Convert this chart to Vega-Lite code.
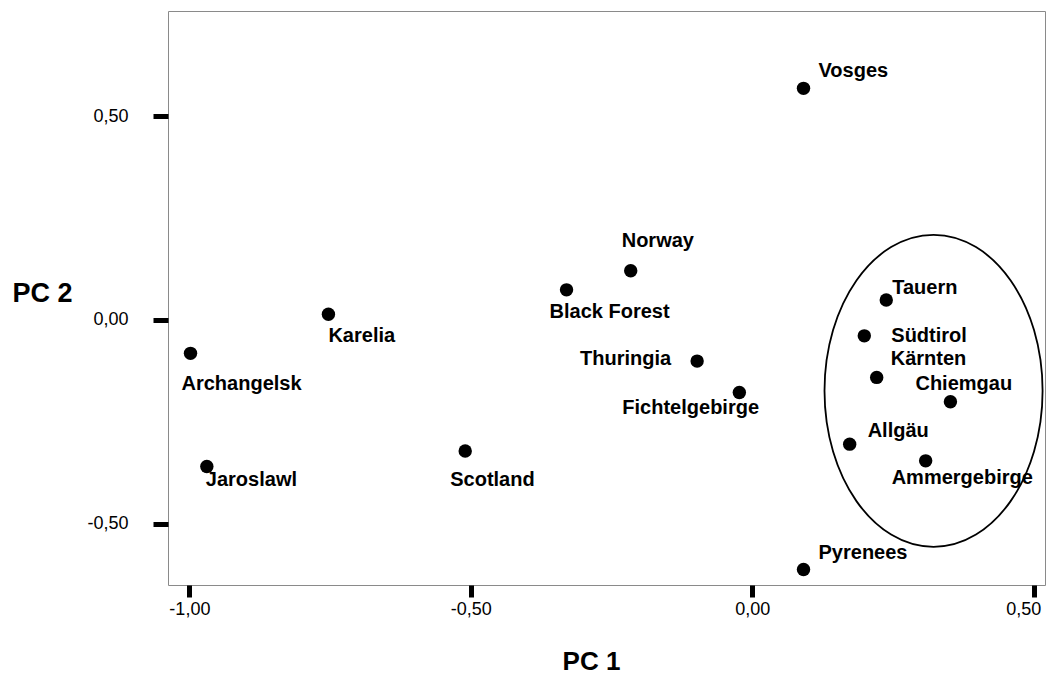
{
  "$schema": "https://vega.github.io/schema/vega-lite/v6.json",
  "width": 877,
  "height": 574,
  "autosize": {"type": "none"},
  "padding": {"left": 168, "top": 11, "right": 5, "bottom": 89},
  "background": "white",
  "config": {
    "font": "Liberation Sans",
    "view": {"stroke": "#8a8a8a", "strokeWidth": 1}
  },
  "datasets": {
    "pts": [
      {"name": "Vosges", "pc1": 0.091, "pc2": 0.569},
      {"name": "Pyrenees", "pc1": 0.091, "pc2": -0.613},
      {"name": "Norway", "pc1": -0.216, "pc2": 0.121},
      {"name": "Black Forest", "pc1": -0.330, "pc2": 0.074},
      {"name": "Karelia", "pc1": -0.753, "pc2": 0.014},
      {"name": "Archangelsk", "pc1": -0.998, "pc2": -0.082},
      {"name": "Jaroslawl", "pc1": -0.969, "pc2": -0.360},
      {"name": "Scotland", "pc1": -0.510, "pc2": -0.322},
      {"name": "Thuringia", "pc1": -0.098, "pc2": -0.101},
      {"name": "Fichtelgebirge", "pc1": -0.023, "pc2": -0.178},
      {"name": "Tauern", "pc1": 0.238, "pc2": 0.049},
      {"name": "Südtirol", "pc1": 0.199, "pc2": -0.039},
      {"name": "Kärnten", "pc1": 0.221, "pc2": -0.141},
      {"name": "Chiemgau", "pc1": 0.352, "pc2": -0.201},
      {"name": "Allgäu", "pc1": 0.173, "pc2": -0.305},
      {"name": "Ammergebirge", "pc1": 0.308, "pc2": -0.346}
    ],
    "ell": [
      {"pc1": 0.322, "pc2": -0.174}
    ]
  },
  "data": {"name": "pts"},
  "encoding": {
    "x": {
      "field": "pc1", "type": "quantitative",
      "scale": {"domain": [-1.038, 0.520], "nice": false, "zero": false},
      "axis": {
        "values": [-1, -0.5, 0, 0.5],
        "labelExpr": "replace(replace(format(datum.value, '.2f'), '.', ','), '\u2212', '-')",
        "grid": false, "domain": false,
        "tickColor": "black", "tickWidth": 5, "tickSize": 12,
        "labelFontSize": 18, "labelColor": "black", "labelPadding": 3,
        "labelFlush": 12, "labelFlushOffset": 7,
        "title": "PC 1", "titleFontSize": 26, "titleFontWeight": "bold", "titleColor": "black",
        "titleX": 423, "titleY": 76, "titleBaseline": "middle", "titleAlign": "center"
      }
    },
    "y": {
      "field": "pc2", "type": "quantitative",
      "scale": {"domain": [-0.651, 0.759], "nice": false, "zero": false},
      "axis": {
        "values": [-0.5, 0, 0.5],
        "labelExpr": "replace(replace(format(datum.value, '.2f'), '.', ','), '\u2212', '-')",
        "grid": false, "domain": false,
        "tickColor": "black", "tickWidth": 5, "tickSize": 15,
        "labelFontSize": 18, "labelColor": "black", "labelPadding": 25,
        "title": "PC 2", "titleFontSize": 27, "titleFontWeight": "bold", "titleColor": "black",
        "titleAngle": 0, "titleX": -156, "titleY": 282, "titleBaseline": "middle", "titleAlign": "left"
      }
    }
  },
  "layer": [
    {
      "data": {"name": "ell"},
      "mark": {
        "type": "point",
        "shape": "M -0.699 0 A 0.699 1 0 1 1 0.699 0 A 0.699 1 0 1 1 -0.699 0 Z",
        "size": 97344,
        "filled": false,
        "stroke": "black",
        "strokeWidth": 1.8,
        "opacity": 1
      }
    },
    {
      "mark": {"type": "circle", "size": 180, "color": "black", "opacity": 1}
    },
    {"transform": [{"filter": "datum.name === 'Vosges'"}], "mark": {"type": "text", "align": "left", "baseline": "middle", "dx": 15, "dy": -17, "fontSize": 20, "fontWeight": "bold", "color": "black"}, "encoding": {"text": {"field": "name"}}},
    {"transform": [{"filter": "datum.name === 'Pyrenees'"}], "mark": {"type": "text", "align": "left", "baseline": "middle", "dx": 15, "dy": -17, "fontSize": 20, "fontWeight": "bold", "color": "black"}, "encoding": {"text": {"field": "name"}}},
    {"transform": [{"filter": "datum.name === 'Norway'"}], "mark": {"type": "text", "align": "left", "baseline": "middle", "dx": -9, "dy": -30, "fontSize": 20, "fontWeight": "bold", "color": "black"}, "encoding": {"text": {"field": "name"}}},
    {"transform": [{"filter": "datum.name === 'Black Forest'"}], "mark": {"type": "text", "align": "left", "baseline": "middle", "dx": -17, "dy": 22, "fontSize": 20, "fontWeight": "bold", "color": "black"}, "encoding": {"text": {"field": "name"}}},
    {"transform": [{"filter": "datum.name === 'Karelia'"}], "mark": {"type": "text", "align": "left", "baseline": "middle", "dx": 0, "dy": 22, "fontSize": 20, "fontWeight": "bold", "color": "black"}, "encoding": {"text": {"field": "name"}}},
    {"transform": [{"filter": "datum.name === 'Archangelsk'"}], "mark": {"type": "text", "align": "left", "baseline": "middle", "dx": -9, "dy": 31, "fontSize": 20, "fontWeight": "bold", "color": "black"}, "encoding": {"text": {"field": "name"}}},
    {"transform": [{"filter": "datum.name === 'Jaroslawl'"}], "mark": {"type": "text", "align": "left", "baseline": "middle", "dx": -1, "dy": 13, "fontSize": 20, "fontWeight": "bold", "color": "black"}, "encoding": {"text": {"field": "name"}}},
    {"transform": [{"filter": "datum.name === 'Scotland'"}], "mark": {"type": "text", "align": "left", "baseline": "middle", "dx": -15, "dy": 29, "fontSize": 20, "fontWeight": "bold", "color": "black"}, "encoding": {"text": {"field": "name"}}},
    {"transform": [{"filter": "datum.name === 'Thuringia'"}], "mark": {"type": "text", "align": "right", "baseline": "middle", "dx": -26, "dy": -2, "fontSize": 20, "fontWeight": "bold", "color": "black"}, "encoding": {"text": {"field": "name"}}},
    {"transform": [{"filter": "datum.name === 'Fichtelgebirge'"}], "mark": {"type": "text", "align": "left", "baseline": "middle", "dx": -117, "dy": 16, "fontSize": 20, "fontWeight": "bold", "color": "black"}, "encoding": {"text": {"field": "name"}}},
    {"transform": [{"filter": "datum.name === 'Tauern'"}], "mark": {"type": "text", "align": "left", "baseline": "middle", "dx": 6, "dy": -12, "fontSize": 20, "fontWeight": "bold", "color": "black"}, "encoding": {"text": {"field": "name"}}},
    {"transform": [{"filter": "datum.name === 'Südtirol'"}], "mark": {"type": "text", "align": "left", "baseline": "middle", "dx": 27, "dy": 0, "fontSize": 20, "fontWeight": "bold", "color": "black"}, "encoding": {"text": {"field": "name"}}},
    {"transform": [{"filter": "datum.name === 'Kärnten'"}], "mark": {"type": "text", "align": "left", "baseline": "middle", "dx": 14, "dy": -18, "fontSize": 20, "fontWeight": "bold", "color": "black"}, "encoding": {"text": {"field": "name"}}},
    {"transform": [{"filter": "datum.name === 'Chiemgau'"}], "mark": {"type": "text", "align": "left", "baseline": "middle", "dx": -35, "dy": -18, "fontSize": 20, "fontWeight": "bold", "color": "black"}, "encoding": {"text": {"field": "name"}}},
    {"transform": [{"filter": "datum.name === 'Allgäu'"}], "mark": {"type": "text", "align": "left", "baseline": "middle", "dx": 18, "dy": -13, "fontSize": 20, "fontWeight": "bold", "color": "black"}, "encoding": {"text": {"field": "name"}}},
    {"transform": [{"filter": "datum.name === 'Ammergebirge'"}], "mark": {"type": "text", "align": "left", "baseline": "middle", "dx": -34, "dy": 17, "fontSize": 20, "fontWeight": "bold", "color": "black"}, "encoding": {"text": {"field": "name"}}}
  ]
}
